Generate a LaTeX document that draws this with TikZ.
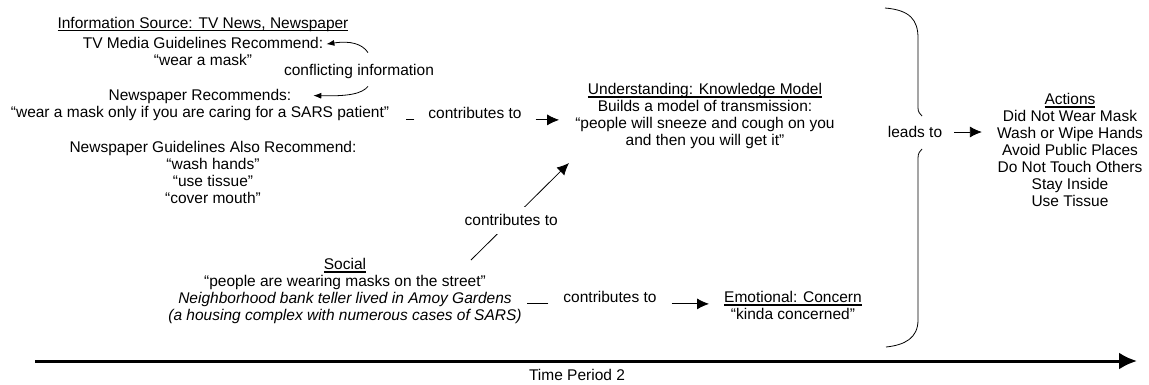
\documentclass[tikz,border=0pt]{standalone}
\usepackage{fontspec}
\setmainfont{Liberation Sans}
\usepackage{tikz}
\usetikzlibrary{arrows.meta}
\usetikzlibrary{calc}

\newcommand{\uln}[1]{\setbox0\hbox{#1}\rlap{\rule[-3pt]{\wd0}{1.2pt}}\box0}

\tikzset{
	txt/.style={align=center, inner sep=1pt, font=\fontsize{15.5}{17}\selectfont},
	contr/.style={txt, inner xsep=14pt},
	link/.style={line width=0.8pt},
	arr/.style={link, -{Latex[length=12pt,width=11pt]}},
	curv/.style={link, -{Latex[length=8pt,width=6pt]}},
}

\begin{document}
\begin{tikzpicture}[x=1pt,y=-1pt]
	\useasboundingbox (0,0) rectangle (1149,384);
	
	% information source
	\node[txt] (src) at (203,24) {\uln{Information Source: TV News, Newspaper}};
	\node[txt] (tv) at (203,51.5) {TV Media Guidelines Recommend:\\“wear a mask”};
	\node[txt] (conflict) at (359,71) {conflicting information};
	\node[txt] (newsp) at (200,104.5) {Newspaper Recommends:\\“wear a mask only if you are caring for a SARS patient”};
	\node[txt] (guide) at (213,172) {Newspaper Guidelines Also Recommend:\\“wash hands”\\“use tissue”\\“cover mouth”};
	
	\node[txt] (social) at (345,291) {\uln{Social}\\“people are wearing masks on the street”\\\textit{Neighborhood bank teller lived in Amoy Gardens}\\\textit{(a housing complex with numerous cases of SARS)}};
	
	\node[txt] (understand) at (705,116) {\uln{Understanding: Knowledge Model}\\Builds a model of transmission:\\“people will sneeze and cough on you\\and then you will get it”};
	\node[txt] (emot) at (793,305.5) {\uln{Emotional: Concern}\\“kinda concerned”};
	
	\node[txt] (leads) at (915,132) {leads to};
	\node[txt] (actions) at (1070,150) {\uln{Actions}\\Did Not Wear Mask\\Wash or Wipe Hands\\Avoid Public Places\\Do Not Touch Others\\Stay Inside\\Use Tissue};
	
	\node[txt] (time) at (577,375) {Time Period 2};
	
	% conflicting information
	\draw[curv] ($(conflict.north)+(9,-10)$) .. controls ($(conflict.north)+(3,-19)$) and ($(conflict.north)+(-9,-22)$) .. ($(tv.north east)+(2,8)$);
	\draw[curv] ($(conflict.south)+(9,7)$) .. controls ($(conflict.south)+(3,14)$) and ($(conflict.south)+(-9,17)$) .. ($(newsp.north east)+(-77,8)$);
	
	% contributes to
	\node[contr] (c1) at (475,113) {contributes to};
	\draw[link] (c1.south west) -- +(-8,0);
	\draw[arr, shorten >=15pt] (c1.south east) -- (c1.south east -| understand.west);
	
	\coordinate (s2) at (471,260);
	\coordinate (u2) at (569,163);
	\draw[arr] (s2) -- (u2) node[txt, pos=0.41, fill=white, inner ysep=8pt] (c2) {contributes to};
	
	\node[contr, inner xsep=15pt] (c3) at (610,297) {contributes to};
	\draw[link] (c3.south west) -- +(-21,0);
	\draw[arr, shorten >=14pt] (c3.south east) -- (c3.south east -| emot.west);
	
	% brace
	\draw[link] (885,8) .. controls (910,10) and (918,20) .. (918,38) -- (918,108) .. controls (918,112) and (920,114) .. (922,116);
	\draw[link] (922,149) .. controls (920,151) and (918,153) .. (918,158) -- (918,320) .. controls (918,338) and (905,345) .. (886,347);
	\draw[arr, shorten <=11pt, shorten >=14pt] (leads.east) -- (leads.east -| actions.west);
	
	% time line
	\coordinate (t0) at (35,361);
	\coordinate (t1) at (1137,361);
	\draw[line width=3pt, -{Latex[length=18pt,width=17pt]}] (t0) -- (t1);
	
\end{tikzpicture}
\end{document}
